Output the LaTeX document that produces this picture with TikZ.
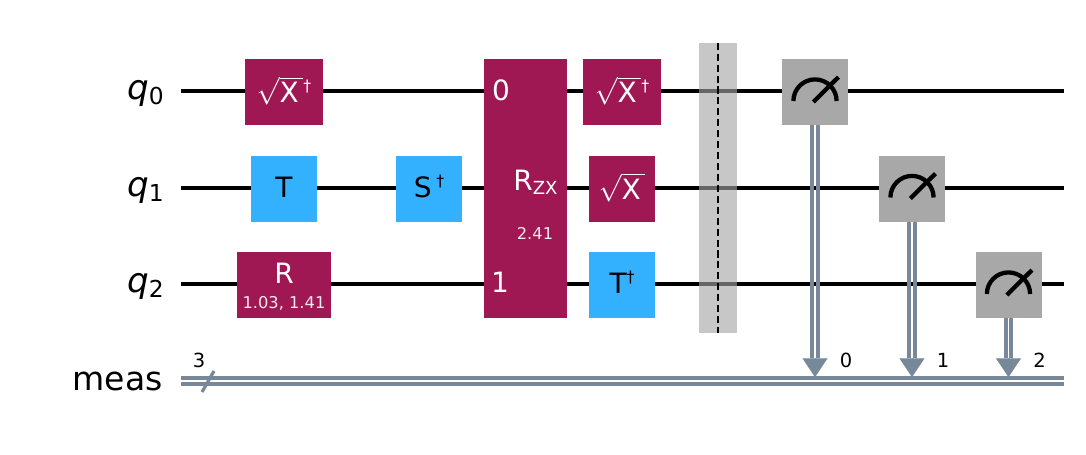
\documentclass[tikz,border=0pt]{standalone}
\usepackage{fontspec}
\setmainfont{DejaVu Sans}
\setmathrm{DejaVu Sans}
\usepackage{tikz}
\usetikzlibrary{arrows.meta}
\definecolor{gatered}{HTML}{9F1853}
\definecolor{gateblue}{HTML}{33B1FF}
\definecolor{measgray}{HTML}{A8A8A8}
\definecolor{barriergray}{HTML}{A5A5A5}
\definecolor{cregblue}{HTML}{778899}
\newcommand{\qfont}{\fontsize{25.6}{28}\selectfont}
\newcommand{\gatefont}{\fontsize{21}{24}\selectfont}
\newcommand{\parfont}{\fontsize{12.2}{15}\selectfont}
\newcommand{\idxfont}{\fontsize{14.6}{18}\selectfont}
\newcommand{\dagg}{\raisebox{8.25pt}{\fontsize{11.8}{14}\selectfont †}}
\newcommand{\qlab}[1]{\textit{q}\raisebox{-3.75pt}{\fontsize{17.5}{20}\selectfont #1}}
\newcommand{\sqx}{$\sqrt{\mathrm{X}\,}$}
\tikzstyle{gate}=[rectangle,inner sep=0mm,minimum height=49.5pt,text=white,font=\gatefont,text height=16pt,text depth=3.2pt]
\tikzstyle{redgate}=[gate,fill=gatered]
\tikzstyle{sqrtgate}=[redgate,text height=18.2pt,text depth=2pt]
\tikzstyle{bluegate}=[gate,fill=gateblue,text=black]
\tikzstyle{meter}=[gate,fill=measgray,minimum width=49.5pt]
\tikzstyle{gatetext}=[inner sep=0mm,text=white,font=\gatefont]
\tikzstyle{partext}=[inner sep=0mm,text=white!90!gatered,font=\parfont]
\tikzstyle{qlabel}=[inner sep=0mm,anchor=base east,font=\qfont]
\tikzstyle{index}=[inner sep=0mm,font=\idxfont]
\tikzstyle{wire}=[line width=3.5pt]
\tikzstyle{cwire}=[cregblue,line width=2.8pt,double=white,double distance=1.5pt]
\tikzstyle{cbit}=[cregblue,line width=3pt]
\tikzstyle{ctip}=[cregblue,line width=0.1pt,-{Triangle[length=14pt,width=18.75pt]}]
\tikzstyle{dial}=[line width=3.2pt]
\begin{document}
\begin{tikzpicture}[x=0.75pt,y=-0.75pt]
      \useasboundingbox (0,0) rectangle (1086,454);
      \node[qlabel] at (164,99) (q0) {\qlab{0}};
      \node[qlabel] at (164,196) (q1) {\qlab{1}};
      \node[qlabel] at (164,292) (q2) {\qlab{2}};
      \node[qlabel,font=\fontsize{24.8}{28}\selectfont] at (163,390) (meas) {meas};
      \coordinate (q0s) at (181,91);
      \coordinate (q1s) at (181,188);
      \coordinate (q2s) at (181,284);
      \coordinate (q0e) at (1064,91);
      \coordinate (q1e) at (1064,188);
      \coordinate (q2e) at (1064,284);
      \coordinate (cs) at (181,381);
      \coordinate (ce) at (1064,381);
      \draw[wire] (q0s) -- (q0e);
      \draw[wire] (q1s) -- (q1e);
      \draw[wire] (q2s) -- (q2e);
      \draw[cwire] (cs) -- (ce);
      \coordinate (slasha) at (202,392);
      \coordinate (slashb) at (214,371);
      \draw[cregblue,line width=2.4pt] (slasha) -- (slashb);
      \node[index] at (199,360) (nbits) {3};
      \node[sqrtgate,minimum width=58.5pt] at (284,92) (sxdg0) {\sqx\dagg};
      \node[bluegate,minimum width=49.5pt] at (284,188.5) (t1) {T};
      \node[redgate,minimum width=70.5pt] at (284,285) (r2) {};
      \node[gatetext] at (284,273.5) (r2name) {R};
      \node[partext] at (284,303) (r2par) {1.03, 1.41};
      \node[bluegate,minimum width=49.5pt] at (429,188.5) (sdg1) {S\,\dagg};
      \node[redgate,minimum width=62pt,minimum height=194pt] at (525.5,188.5) (rzx) {};
      \node[gatetext] at (501,90.5) (rzx0) {0};
      \node[gatetext] at (500,282) (rzx1) {1};
      \node[gatetext,anchor=base] at (535.5,190) (rzxname) {R\raisebox{-3pt}{\fontsize{13.5}{16}\selectfont ZX}};
      \node[partext] at (535,233) (rzxpar) {2.41};
      \node[sqrtgate,minimum width=58.5pt] at (622,92) (sxdg3) {\sqx\dagg};
      \node[sqrtgate,minimum width=49.5pt] at (622,188.5) (sx4) {\sqx};
      \node[bluegate,minimum width=49.5pt] at (622,285) (tdg5) {T\dagg};
      \node[fill=barriergray,fill opacity=0.62,inner sep=0mm,minimum width=28.5pt,minimum height=217.5pt] at (718,188) (barrier) {};
      \draw[line width=1.5pt,dash pattern=on 5.3pt off 2.9pt] (barrier.north) -- (barrier.south);
      \node[meter] at (815,92) (m0) {};
      \node[meter] at (912,188.5) (m1) {};
      \node[meter] at (1008.5,285) (m2) {};
      \draw[dial] ([shift={(-16.2pt,-6.75pt)}]m0.center) arc[start angle=180,end angle=0,radius=16.2pt];
      \draw[dial] ([shift={(-1.3pt,-7.5pt)}]m0.center) -- ([shift={(17.6pt,11.2pt)}]m0.center);
      \draw[dial] ([shift={(-16.2pt,-6.75pt)}]m1.center) arc[start angle=180,end angle=0,radius=16.2pt];
      \draw[dial] ([shift={(-1.3pt,-7.5pt)}]m1.center) -- ([shift={(17.6pt,11.2pt)}]m1.center);
      \draw[dial] ([shift={(-16.2pt,-6.75pt)}]m2.center) arc[start angle=180,end angle=0,radius=16.2pt];
      \draw[dial] ([shift={(-1.3pt,-7.5pt)}]m2.center) -- ([shift={(17.6pt,11.2pt)}]m2.center);
      \coordinate (c0) at (815,377);
      \coordinate (c1) at (912,377);
      \coordinate (c2) at (1008.5,377);
      \coordinate (c0t) at (815,358);
      \coordinate (c1t) at (912,358);
      \coordinate (c2t) at (1008.5,358);
      \draw[cbit] ([xshift=-2.15pt]m0.south) -- ([xshift=-2.15pt]c0t);
      \draw[cbit] ([xshift=2.15pt]m0.south) -- ([xshift=2.15pt]c0t);
      \draw[cbit] ([xshift=-2.15pt]m1.south) -- ([xshift=-2.15pt]c1t);
      \draw[cbit] ([xshift=2.15pt]m1.south) -- ([xshift=2.15pt]c1t);
      \draw[cbit] ([xshift=-2.15pt]m2.south) -- ([xshift=-2.15pt]c2t);
      \draw[cbit] ([xshift=2.15pt]m2.south) -- ([xshift=2.15pt]c2t);
      \draw[ctip] (c0t) -- (c0);
      \draw[ctip] (c1t) -- (c1);
      \draw[ctip] (c2t) -- (c2);
      \node[index] at (846,360) (i0) {0};
      \node[index] at (943,360) (i1) {1};
      \node[index] at (1039.5,360) (i2) {2};
    \end{tikzpicture}
\end{document}
